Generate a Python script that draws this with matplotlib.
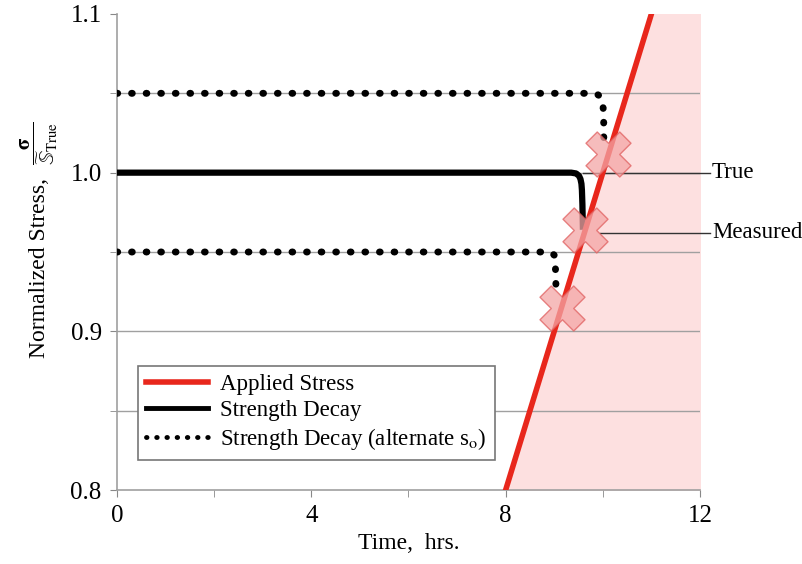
import numpy as np
import matplotlib.pyplot as plt
from matplotlib.ticker import MultipleLocator

plt.rcParams['font.family'] = ['Liberation Serif', 'DejaVu Serif']
plt.rcParams['mathtext.fontset'] = 'stix'

# applied stress ramp
applied_t = [8.0, 11.0]
applied_s = [0.8, 1.1]

# strength decay (true s_o)
decay_t = [0.0, 9.35, 9.45, 9.51, 9.54, 9.56, 9.57, 9.58, 9.585, 9.59]
decay_s = [1.0, 1.0, 0.9995, 0.998, 0.996, 0.993, 0.989, 0.980, 0.972, 0.964]

# strength decay, alternate s_o (upper / lower)
hi_t = [0.0, 9.75, 9.88, 9.95, 9.99, 10.01, 10.02, 10.02]
hi_s = [1.05, 1.05, 1.0495, 1.048, 1.045, 1.04, 1.03, 1.016]
lo_t = [0.0, 8.85, 8.95, 9.0, 9.02, 9.03, 9.04]
lo_s = [0.95, 0.95, 0.9495, 0.948, 0.945, 0.935, 0.922]

# failure points
fail_t = [10.1, 9.64, 9.16]
fail_s = [1.012, 0.964, 0.915]

fig = plt.figure(figsize=(8.03, 5.64), dpi=100)
ax = fig.add_axes([0.1457, 0.1312, 0.726, 0.844])

ax.set_xlim(0, 12)
ax.set_ylim(0.8, 1.1)

# shaded failure region right of the ramp
ax.fill_betweenx(applied_s, applied_t, [12, 12], color='#fde0e0', zorder=0)

for yv in [0.85, 0.9, 0.95, 1.0, 1.05]:
    ax.axhline(yv, color='#a0a0a0', lw=1, zorder=1)

dot = (0, (0.1, 2.0))
ax.plot(hi_t, hi_s, color='black', lw=5, ls=dot, dash_capstyle='round', zorder=3)
ax.plot(lo_t, lo_s, color='black', lw=5, ls=dot, dash_capstyle='round', zorder=3)
ax.plot(decay_t, decay_s, color='black', lw=4.5, solid_capstyle='butt',
        solid_joinstyle='round', zorder=3)
ax.plot(applied_t, applied_s, color='#e8271c', lw=4, zorder=4)

ax.scatter(fail_t, fail_s, marker='X', s=1050, facecolor='#f4a6a6', edgecolor='#e06060',
           linewidth=1, alpha=0.75, zorder=5)

# annotations
ax.plot([9.6, 12.2], [1.0, 1.0], color='#333333', lw=1, clip_on=False, zorder=2)
ax.text(12.25, 1.0, 'True', va='center', ha='left', fontsize=16.5)
ax.plot([9.95, 12.2], [0.962, 0.962], color='#333333', lw=1, clip_on=False, zorder=2)
ax.text(12.25, 0.962, 'Measured', va='center', ha='left', fontsize=16.5)

# legend proxies
h1, = ax.plot([], [], color='#e8271c', lw=4, label='Applied Stress')
h2, = ax.plot([], [], color='black', lw=3.5, label='Strength Decay')
h3, = ax.plot([], [], color='black', lw=3.5, ls=(0, (0.1, 2.0)), dash_capstyle='round',
              label=r'Strength Decay (alternate s$_{\mathrm{o}}$)')
leg = ax.legend(handles=[h1, h2, h3], loc='lower left', bbox_to_anchor=(0.036, 0.063),
                borderaxespad=0, fontsize=16.5, frameon=True, fancybox=False, framealpha=1,
                edgecolor='#777777', handlelength=2.7, borderpad=0.35,
                labelspacing=0.22, handletextpad=0.55)
leg.get_frame().set_linewidth(1.2)
leg.set_zorder(10)

ax.xaxis.set_major_locator(MultipleLocator(4))
ax.xaxis.set_minor_locator(MultipleLocator(2))
ax.yaxis.set_major_locator(MultipleLocator(0.1))
ax.yaxis.set_minor_locator(MultipleLocator(0.05))
ax.xaxis.set_major_formatter(plt.FuncFormatter(lambda v, p: f'{v:.0f}'))
ax.yaxis.set_major_formatter(plt.FuncFormatter(lambda v, p: f'{v:.1f}'))
ax.tick_params(which='both', direction='out', length=5, color='#888888', labelsize=18, pad=6)

for s in ['top', 'right']:
    ax.spines[s].set_visible(False)
for s in ['left', 'bottom']:
    ax.spines[s].set_color('#a0a0a0')
    ax.spines[s].set_linewidth(1.2)

ax.set_xlabel('Time,  hrs.', fontsize=17, labelpad=4)

# y label: text and fraction placed separately
fig.text(40 / 803, 1 - 268 / 564, 'Normalized Stress,', rotation=90,
         ha='center', va='center', fontsize=17)
fig.text(39 / 803, 1 - 143 / 564,
         r'$\dfrac{\mathbf{\sigma}}{\widetilde{\mathbb{S}}_{\mathrm{True}}}$',
         rotation=90, ha='center', va='center', fontsize=15)

fig.savefig('out.png', dpi=100)
